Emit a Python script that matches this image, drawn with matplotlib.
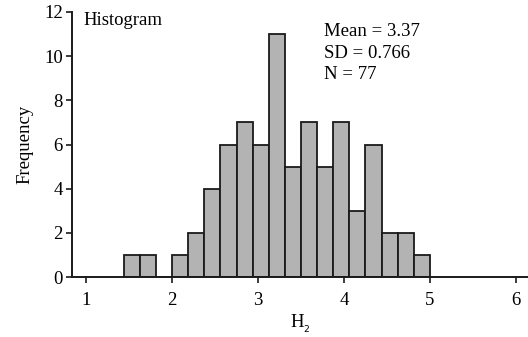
import numpy as np
import matplotlib.pyplot as plt

plt.rcParams["font.family"] = ["Liberation Serif", "DejaVu Serif"]

# histogram of H2 values: 19 bins of width 0.1875 starting at 1.4375
bin_start = 1.4375
bin_width = 0.1875
counts = [1, 1, 0, 1, 2, 4, 6, 7, 6, 11, 5, 7, 5, 7, 3, 6, 2, 2, 1]
stats_lines = ["Mean = 3.37", "SD = 0.766", "N = 77"]
x_ticks = [1, 2, 3, 4, 5, 6]
y_ticks = [0, 2, 4, 6, 8, 10, 12]


def main():
    edges = bin_start + bin_width * np.arange(len(counts) + 1)

    fig = plt.figure(figsize=(5.28, 3.37), dpi=100)
    ax = fig.add_axes([0.1364, 0.178, 0.8636, 0.7864])

    ax.bar(edges[:-1], counts, width=np.diff(edges), align="edge",
           color="#b3b3b3", edgecolor="#1a1a1a", linewidth=1.3)

    ax.set_xlim(0.837, 6.14)
    ax.set_ylim(0, 12)
    ax.set_xticks(x_ticks)
    ax.set_yticks(y_ticks)

    for side in ["top", "right"]:
        ax.spines[side].set_visible(False)
    for side in ["left", "bottom"]:
        ax.spines[side].set_linewidth(1.4)
        ax.spines[side].set_color("#1a1a1a")

    ax.tick_params(axis="both", labelsize=13.5, length=4.5, width=1.2,
                   color="#1a1a1a")
    ax.tick_params(axis="y", pad=2)
    ax.tick_params(axis="x", pad=6)

    ax.set_xlabel("H$_{_2}$", fontsize=13.5, labelpad=3)
    ax.set_ylabel("Frequency", fontsize=13.5, labelpad=8)

    ax.text(0.0255, 1.0, "Histogram", transform=ax.transAxes,
            fontsize=13.5, va="top", ha="left")
    ax.text(0.553, 0.96, "\n".join(stats_lines), transform=ax.transAxes,
            fontsize=13.5, va="top", ha="left", linespacing=1.38)

    fig.savefig("out.png", dpi=100)
    plt.close(fig)


if __name__ == "__main__":
    main()
